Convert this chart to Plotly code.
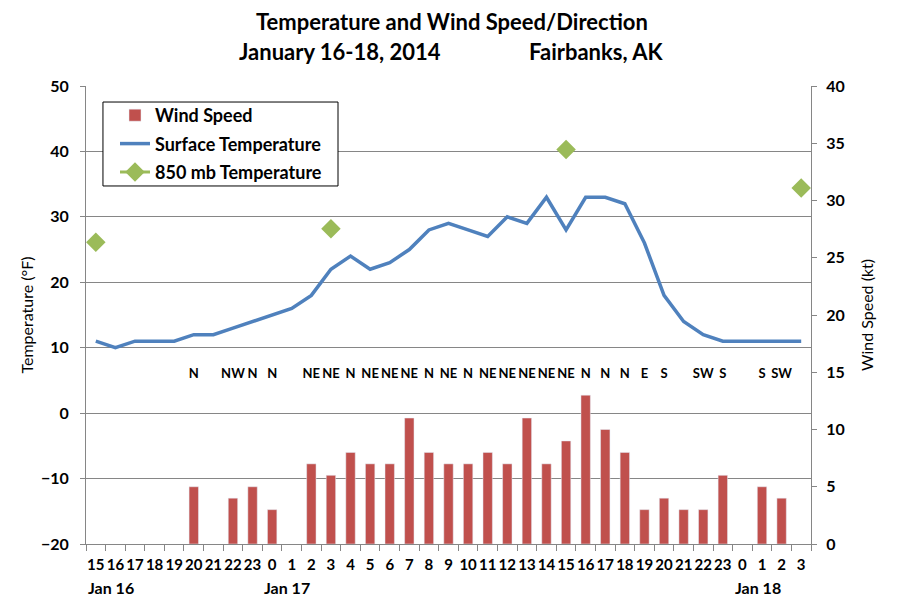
import plotly.graph_objects as go

# hours along the x axis, Jan 16 15Z through Jan 18 03Z
hours = [15, 16, 17, 18, 19, 20, 21, 22, 23,
         0, 1, 2, 3, 4, 5, 6, 7, 8, 9, 10, 11, 12, 13, 14, 15, 16, 17, 18, 19, 20, 21, 22, 23,
         0, 1, 2, 3]
day_labels = ["Jan 16", "Jan 17", "Jan 18"]
day_start_idx = [0, 9, 33]

wind_speed = [None, None, None, None, None, 5, None, 4, 5,
              3, None, 7, 6, 8, 7, 7, 11, 8, 7, 7, 8, 7, 11, 7, 9, 13, 10, 8, 3, 4, 3, 3, 6,
              None, 5, 4, None]
wind_dir = ["", "", "", "", "", "N", "", "NW", "N",
            "N", "", "NE", "NE", "N", "NE", "NE", "NE", "N", "NE", "N", "NE", "NE", "NE", "NE", "NE",
            "N", "N", "N", "E", "S", "", "SW", "S",
            "", "S", "SW", ""]
surface_temp = [11, 10, 11, 11, 11, 12, 12, 13, 14,
                15, 16, 18, 22, 24, 22, 23, 25, 28, 29, 28, 27, 30, 29, 33, 28, 33, 33, 32, 26, 18, 14, 12, 11,
                11, 11, 11, 11]
temp_850 = [26.1, None, None, None, None, None, None, None, None,
            None, None, None, 28.2, None, None, None, None, None, None, None, None, None, None, None, 40.3,
            None, None, None, None, None, None, None, None,
            None, None, None, 34.4]

x = list(range(len(hours)))
boundaries = [i - 0.5 for i in range(len(hours) + 1)]
FONT = "Lato"
GRID = "#868686"

fig = go.Figure()

fig.add_trace(go.Bar(
    x=x, y=wind_speed, name="Wind Speed", yaxis="y2", legendgroup="ws",
    marker_color="#C0504D", width=0.48,
))
fig.add_trace(go.Scatter(
    x=x, y=surface_temp, name="Surface Temperature", mode="lines", legendgroup="sfc",
    line=dict(color="#4F81BD", width=3.5),
))
fig.add_trace(go.Scatter(
    x=x, y=temp_850, name="850 mb Temperature", mode="lines+markers", legendgroup="850",
    line=dict(color="#9BBB59", width=3), connectgaps=False,
    marker=dict(symbol="diamond", size=15, color="#9BBB59"),
))
# wind direction labels (on the overlay x axis that carries the boundary ticks)
fig.add_trace(go.Scatter(
    x=x, y=[5.8] * len(x), mode="text", text=wind_dir, showlegend=False,
    xaxis="x2",
    textfont=dict(family=FONT, size=13, color="black", weight="bold"),
    hoverinfo="skip",
))

title_font = dict(family=FONT, size=22, color="black", weight="bold")
annotations = [
    dict(text="Temperature and Wind Speed/Direction", x=0.505, y=1.14, xref="paper", yref="paper",
         xanchor="center", yanchor="middle", showarrow=False, font=title_font),
    dict(text="January 16-18, 2014", x=0.35, y=1.076, xref="paper", yref="paper",
         xanchor="center", yanchor="middle", showarrow=False, font=title_font),
    dict(text="Fairbanks, AK", x=0.703, y=1.076, xref="paper", yref="paper",
         xanchor="center", yanchor="middle", showarrow=False, font=title_font),
]
for lab, idx in zip(day_labels, day_start_idx):
    annotations.append(dict(text=lab, x=idx - 0.5, y=-0.096, xref="x", yref="paper",
                            xanchor="left", yanchor="middle", showarrow=False,
                            font=dict(family=FONT, size=16, color="black", weight="bold")))

# legend frame drawn as a shape so it can be wider than plotly's own box
shapes = [dict(type="rect", xref="paper", yref="paper", x0=0.0234, x1=0.3476, y0=0.7817, y1=0.965,
               line=dict(color="black", width=1), fillcolor="white", layer="above")]

# the page body adds an 8px offset, so left/top margins are reduced by 8
fig.update_layout(
    width=906, height=605,
    margin=dict(l=78, r=103, t=78, b=69),
    plot_bgcolor="white", paper_bgcolor="white",
    font=dict(family=FONT, color="black"),
    annotations=annotations,
    shapes=shapes,
    bargap=0.5,
    xaxis=dict(
        range=[-0.5, len(x) - 0.5],
        tickmode="array", tickvals=x, ticktext=[str(h) for h in hours],
        tickfont=dict(family=FONT, size=15, weight="bold"), tickangle=0, ticklabelstandoff=7,
        ticks="", showgrid=False, zeroline=False, automargin=False,
        showline=True, linecolor=GRID, linewidth=1,
    ),
    xaxis2=dict(
        range=[-0.5, len(x) - 0.5], overlaying="x", anchor="y", side="bottom",
        tickmode="array", tickvals=boundaries, showticklabels=False,
        ticks="outside", ticklen=6, tickcolor=GRID,
        showgrid=False, zeroline=False, showline=False, automargin=False,
    ),
    yaxis=dict(
        range=[-20, 50], dtick=10, automargin=False,
        title=dict(text="Temperature (°F)", font=dict(size=16), standoff=3),
        tickfont=dict(family=FONT, size=16, weight="bold"), ticklabelstandoff=8,
        showgrid=True, gridcolor=GRID, gridwidth=1, zeroline=False,
        showline=True, linecolor=GRID, ticks="outside", ticklen=5, tickcolor=GRID,
    ),
    yaxis2=dict(
        range=[0, 40], dtick=5, overlaying="y", side="right", automargin=False,
        title=dict(text="Wind Speed (kt)", font=dict(size=16), standoff=18),
        tickfont=dict(family=FONT, size=16, weight="bold"), ticklabelstandoff=6,
        showgrid=False, zeroline=False,
        showline=True, linecolor=GRID, ticks="outside", ticklen=5, tickcolor=GRID,
    ),
    legend=dict(
        x=0.040, y=0.976, xanchor="left", yanchor="top",
        bgcolor="rgba(0,0,0,0)", borderwidth=0,
        font=dict(family=FONT, size=18, color="black", weight="bold"),
        traceorder="grouped", tracegroupgap=2, itemwidth=30,
    ),
    showlegend=True,
)

fig.write_html("out.html")
